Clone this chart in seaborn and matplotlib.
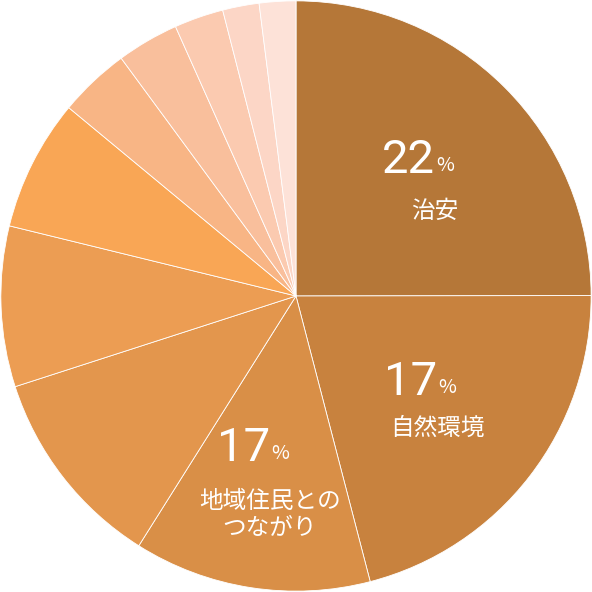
import matplotlib
matplotlib.use("Agg")
import matplotlib.pyplot as plt
import seaborn as sns

sns.set_theme(style="white")
plt.rcParams['font.family'] = ['Noto Sans CJK JP', 'DejaVu Sans']

shares = [25, 21, 13, 11.1, 8.8, 7.2, 3.9, 3.4, 2.7, 2, 2]
colors = ["#B57738", "#C8823E", "#D98F47", "#E3964D", "#EC9D53", "#F9A655",
          "#F8B585", "#F9BF9C", "#FBCAB0", "#FCD6C6", "#FDE2D8"]
pct_labels = ["22", "17", "17"]
name_labels = ["治安", "自然環境", "地域住民との\nつながり"]

fig = plt.figure(figsize=(5.92, 5.92), dpi=100)
ax = fig.add_axes([0, 0, 1, 1])
ax.pie(shares, colors=colors, startangle=90, counterclock=False,
       wedgeprops=dict(edgecolor="white", linewidth=0.6), radius=1)
ax.set_xlim(-1.003, 1.003); ax.set_ylim(-1.003, 1.003)
ax.set_aspect("equal"); ax.axis("off")

def pos(px, py):
    return (px - 296) / 295, (296 - py) / 295

pct_pos = [(435, 160), (437, 382), (270, 448)]
name_pos = [(435, 211), (437, 428), (270, 515)]
for p, n, pp, nn in zip(pct_labels, name_labels, pct_pos, name_pos):
    x, y = pos(*pp)
    ax.text(x, y, p, color="white", fontsize=34, ha="right", va="center",
            fontfamily="Roboto")
    ax.text(x + 0.005, y - 0.02, "%", color="white", fontsize=14, ha="left", va="center")
    x, y = pos(*nn)
    ax.text(x, y, n, color="white", fontsize=17, ha="center", va="center", linespacing=1.2)

fig.savefig("out.png", dpi=100)
